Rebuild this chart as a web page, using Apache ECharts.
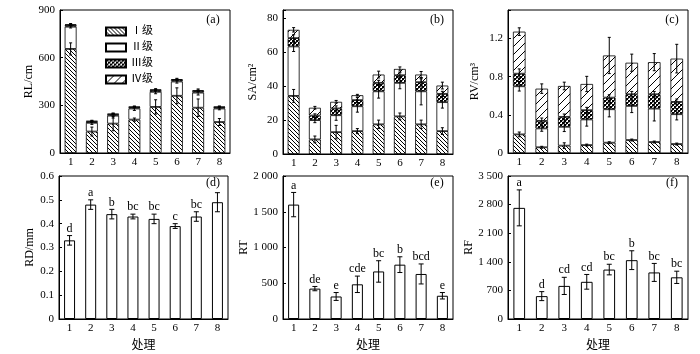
<!DOCTYPE html>
<html><head><meta charset="utf-8">
<script src="https://cdn.jsdelivr.net/npm/echarts@6/dist/echarts.min.js"></script>
<style>html,body{margin:0;background:#fff}#c{width:700px;height:354px}</style>
</head><body><div id="c"></div>
<script>
const categories = ['1','2','3','4','5','6','7','8'];
const levelNames = ['Ⅰ级','Ⅱ级','Ⅲ级','Ⅳ级'];

// (a) RL/cm stacked by root class
const rlI   = [655, 135, 185, 210, 290, 360, 285, 195];
const rlII  = [140, 55, 50, 70, 95, 90, 95, 85];
const rlIII = [10, 8, 8, 8, 10, 10, 10, 8];
const rlIV  = [5, 4, 4, 4, 5, 5, 5, 4];
const rlErrI   = [38, 28, 45, 10, 45, 50, 55, 22];
const rlErrII  = [8, 10, 15, 12, 12, 10, 15, 8];
const rlErrIII = [5, 4, 4, 4, 5, 5, 5, 4];
const rlErrIV  = [5, 4, 4, 4, 5, 5, 8, 4];

// (b) SA/cm2
const saI   = [34.3, 8.6, 12.9, 13.5, 17.5, 22.2, 17.5, 13.5];
const saII  = [29.2, 11.4, 10.0, 14.7, 19.5, 19.8, 19.5, 17.1];
const saIII = [4.9, 2.7, 4.0, 3.6, 5.0, 4.5, 5.4, 4.9];
const saIV  = [4.9, 4.6, 3.9, 2.9, 4.9, 3.7, 4.5, 4.9];
const saErrI   = [3.8, 2, 4, 1.5, 2.5, 2, 2.5, 2];
const saErrII  = [3, 1.5, 3, 3.5, 4, 3.5, 8, 3.5];
const saErrIII = [2, 1, 1.5, 1.5, 1.5, 1.5, 2, 1.5];
const saErrIV  = [1.3, 0.8, 0.8, 0.5, 2, 1.2, 1.8, 2];

// (c) RV/cm3
const rvI   = [0.195, 0.06, 0.077, 0.083, 0.108, 0.136, 0.115, 0.094];
const rvII  = [0.505, 0.198, 0.198, 0.269, 0.351, 0.358, 0.351, 0.313];
const rvIII = [0.132, 0.079, 0.104, 0.097, 0.122, 0.122, 0.15, 0.129];
const rvIV  = [0.441, 0.338, 0.324, 0.275, 0.442, 0.331, 0.337, 0.454];
const rvErrI   = [0.025, 0.01, 0.03, 0.01, 0.01, 0.01, 0.01, 0.01];
const rvErrII  = [0.05, 0.03, 0.05, 0.07, 0.08, 0.07, 0.13, 0.06];
const rvErrIII = [0.05, 0.03, 0.03, 0.03, 0.03, 0.03, 0.03, 0.03];
const rvErrIV  = [0.04, 0.05, 0.04, 0.08, 0.19, 0.09, 0.09, 0.15];

// (d) RD/mm
const rd = [0.33, 0.48, 0.44, 0.43, 0.42, 0.39, 0.43, 0.49];
const rdErr = [0.02, 0.02, 0.02, 0.01, 0.02, 0.01, 0.02, 0.04];
const rdLetters = ['d', 'a', 'b', 'bc', 'bc', 'c', 'bc', ''];
// (e) RT
const rt = [1600, 425, 315, 485, 665, 760, 630, 325];
const rtErr = [170, 30, 55, 115, 150, 110, 140, 45];
const rtLetters = ['a', 'de', 'e', 'cde', 'bc', 'b', 'bcd', 'e'];
// (f) RF
const rf = [2720, 560, 810, 910, 1210, 1440, 1140, 1020];
const rfErr = [440, 110, 210, 180, 130, 230, 220, 150];
const rfLetters = ['a', 'd', 'cd', 'cd', 'bc', 'b', 'bc', 'bc'];

const panelLabels = ['(a)', '(b)', '(c)', '(d)', '(e)', '(f)'];
const yNames = ['RL/cm', 'SA/cm²', 'RV/cm³', 'RD/mm', 'RT', 'RF'];
const xName = '处理';

const FONT = "'Liberation Serif', 'Noto Sans CJK SC', serif";

function makePattern(kind) {
  if (kind === 1) return '#fff';
  const c = document.createElement('canvas');
  const s = kind === 3 ? 8 : 4;
  c.width = c.height = s;
  const ctx = c.getContext('2d');
  ctx.fillStyle = '#fff';
  ctx.fillRect(0, 0, s, s);
  ctx.strokeStyle = '#000';
  ctx.lineWidth = 1;
  if (kind === 0) {
    ctx.beginPath();
    ctx.moveTo(-1, -1); ctx.lineTo(s + 1, s + 1);
    ctx.moveTo(-1, s - 1); ctx.lineTo(1, s + 1);
    ctx.moveTo(s - 1, -1); ctx.lineTo(s + 1, 1);
    ctx.stroke();
  } else if (kind === 2) {
    ctx.fillStyle = '#000';
    ctx.fillRect(0, 0, 2, 2);
    ctx.fillRect(2, 2, 2, 2);
    ctx.fillStyle = '#555';
    ctx.fillRect(2, 0, 1, 1);
    ctx.fillRect(0, 2, 1, 1);
  } else if (kind === 3) {
    ctx.beginPath();
    ctx.moveTo(-1, s + 1); ctx.lineTo(s + 1, -1);
    ctx.moveTo(-1, 1); ctx.lineTo(1, -1);
    ctx.moveTo(s - 1, s + 1); ctx.lineTo(s + 1, s - 1);
    ctx.stroke();
  }
  return { image: c, repeat: 'repeat' };
}
const patterns = [0, 1, 2, 3].map(makePattern);

const grids = [
  { left: 60, top: 10, width: 170, height: 143 },
  { left: 283, top: 10, width: 170, height: 144 },
  { left: 508, top: 10, width: 180, height: 143 },
  { left: 59, top: 176, width: 169, height: 143 },
  { left: 283, top: 176, width: 170, height: 143 },
  { left: 508, top: 176, width: 180, height: 143 }
];

const thousands = v => (v >= 1000 ? String(v).replace(/\B(?=(\d{3})+(?!\d))/g, ' ') : String(v));
const yAxisSpecs = [
  { max: 900, interval: 300, fmt: v => String(v), gap: 25 },
  { max: 85, interval: 20, fmt: v => (v % 20 === 0 ? String(v) : ''), gap: 24 },
  { max: 1.5, interval: 0.4, fmt: v => (Math.abs(v / 0.4 - Math.round(v / 0.4)) < 1e-6 ? (v === 0 ? '0' : v.toFixed(1)) : ''), gap: 27 },
  { max: 0.6, interval: 0.1, fmt: v => (v === 0 ? '0' : v.toFixed(1)), gap: 23 },
  { max: 2000, interval: 500, fmt: thousands, gap: 33 },
  { max: 3500, interval: 700, fmt: thousands, gap: 31 }
];

const xAxes = grids.map((g, i) => ({
  type: 'category', gridIndex: i, data: categories,
  axisLine: { lineStyle: { color: '#000', width: 1 } },
  axisTick: { show: false },
  axisLabel: { color: '#000', fontFamily: FONT, fontSize: 11, margin: 4 },
  name: i >= 3 ? xName : '', nameLocation: 'middle', nameGap: 21,
  nameTextStyle: { color: '#000', fontFamily: FONT, fontSize: 12 }
}));
const yAxes = yAxisSpecs.map((s, i) => ({
  type: 'value', gridIndex: i, min: 0, max: s.max, interval: s.interval,
  axisLine: { show: true, lineStyle: { color: '#000', width: 1 } },
  axisTick: { show: true, inside: true, length: 3, lineStyle: { color: '#000' } },
  splitLine: { show: false },
  axisLabel: { color: '#000', fontFamily: FONT, fontSize: 11, margin: 5, formatter: s.fmt },
  name: yNames[i], nameLocation: 'middle', nameGap: s.gap, nameRotate: 90,
  nameTextStyle: { color: '#000', fontFamily: FONT, fontSize: 12 }
}));

function errRender(capHalf) {
  return function (params, api) {
    const x = api.value(0), y = api.value(1), e = api.value(2);
    const lab = api.value(3);
    const top = api.coord([x, y + e]);
    const bot = api.coord([x, y - e]);
    const style = { stroke: '#000', lineWidth: 1 };
    const children = [
      { type: 'line', shape: { x1: top[0], y1: top[1], x2: bot[0], y2: bot[1] }, style },
      { type: 'line', shape: { x1: top[0] - capHalf, y1: top[1], x2: top[0] + capHalf, y2: top[1] }, style },
      { type: 'line', shape: { x1: bot[0] - capHalf, y1: bot[1], x2: bot[0] + capHalf, y2: bot[1] }, style }
    ];
    if (lab) {
      children.push({ type: 'text', x: top[0], y: top[1] - 1,
        style: { text: lab, font: "12px 'Liberation Serif'", fill: '#000', align: 'center', verticalAlign: 'bottom' } });
    }
    return { type: 'group', children };
  };
}

const series = [];
const stacks = [
  { levels: [rlI, rlII, rlIII, rlIV], errs: [rlErrI, rlErrII, rlErrIII, rlErrIV] },
  { levels: [saI, saII, saIII, saIV], errs: [saErrI, saErrII, saErrIII, saErrIV] },
  { levels: [rvI, rvII, rvIII, rvIV], errs: [rvErrI, rvErrII, rvErrIII, rvErrIV] }
];
stacks.forEach((st, gi) => {
  st.levels.forEach((arr, k) => {
    series.push({
      type: 'bar', name: levelNames[k], xAxisIndex: gi, yAxisIndex: gi, stack: 'st' + gi,
      data: arr, barWidth: '56%',
      itemStyle: { color: patterns[k], borderColor: '#000', borderWidth: 0.8 },
      emphasis: { disabled: true }
    });
  });
  const cum = categories.map(() => 0);
  st.levels.forEach((arr, k) => {
    const d = arr.map((v, i) => { cum[i] += v; return [i, cum[i], st.errs[k][i], '']; });
    series.push({ type: 'custom', xAxisIndex: gi, yAxisIndex: gi, data: d, renderItem: errRender(1.5), z: 5, silent: true });
  });
});
const singles = [
  { vals: rd, errs: rdErr, letters: rdLetters },
  { vals: rt, errs: rtErr, letters: rtLetters },
  { vals: rf, errs: rfErr, letters: rfLetters }
];
singles.forEach((s, j) => {
  const gi = j + 3;
  series.push({
    type: 'bar', xAxisIndex: gi, yAxisIndex: gi, data: s.vals, barWidth: '52%',
    itemStyle: { color: '#fff', borderColor: '#000', borderWidth: 1 }, emphasis: { disabled: true }
  });
  series.push({
    type: 'custom', xAxisIndex: gi, yAxisIndex: gi, z: 5, silent: true,
    data: s.vals.map((v, i) => [i, v, s.errs[i], s.letters[i]]),
    renderItem: errRender(2.5)
  });
});

const labelPos = [[213, 20], [437, 20], [672, 20], [213, 183], [437, 183], [672, 183]];
const graphics = panelLabels.map((t, i) => ({
  type: 'text', x: labelPos[i][0], y: labelPos[i][1],
  style: { text: t, font: "12px 'Liberation Serif'", fill: '#000', align: 'center', verticalAlign: 'middle' }
}));

const chart = echarts.init(document.getElementById('c'), null, { renderer: 'canvas' });
chart.setOption({
  animation: false,
  backgroundColor: '#fff',
  grid: grids.map(g => Object.assign({ show: true, borderColor: '#000', borderWidth: 1, backgroundColor: 'transparent' }, g)),
  xAxis: xAxes,
  yAxis: yAxes,
  legend: {
    data: levelNames, orient: 'vertical', left: 100, top: 21, itemWidth: 20, itemHeight: 8, itemGap: 5,
    icon: 'rect', selectedMode: false,
    textStyle: { color: '#000', fontFamily: FONT, fontSize: 11 }
  },
  graphic: graphics,
  series
});
</script>
</body></html>
